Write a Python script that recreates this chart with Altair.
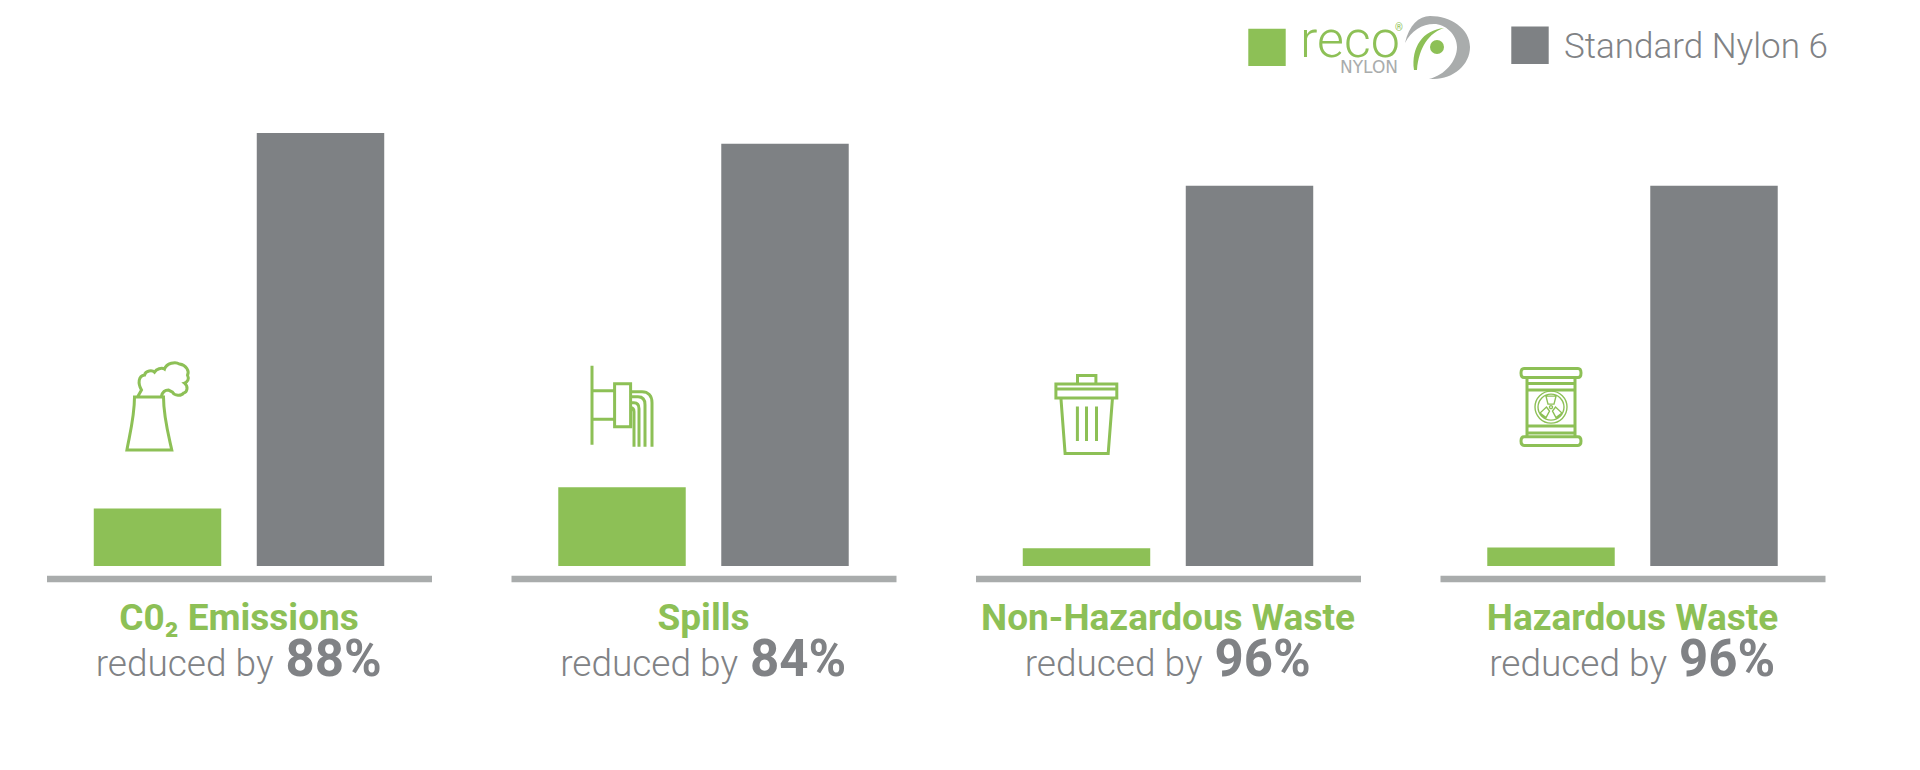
import altair as alt
import pandas as pd

categories = ["C0\u2082 Emissions", "Spills", "Non-Hazardous Waste", "Hazardous Waste"]
reductions = ["88%", "84%", "96%", "96%"]
series = ["reco", "Standard Nylon 6"]
reco_values = [13.3, 18.2, 4.1, 4.3]
standard_values = [100.0, 97.5, 87.8, 87.8]
icon_levels = [36.7, 36.8, 35.0, 36.7]

GREEN = "#8DC056"
GRAY = "#7E8184"
RULE = "#A9ACAC"
TEXT = "#808285"
FONT = "Roboto"
W, H = 385, 433


def ring(cx, cy, r):
    k = r * 0.5523
    return (f"M{cx + r},{cy} C{cx + r},{cy + k} {cx + k},{cy + r} {cx},{cy + r} "
            f"C{cx - k},{cy + r} {cx - r},{cy + k} {cx - r},{cy} "
            f"C{cx - r},{cy - k} {cx - k},{cy - r} {cx},{cy - r} "
            f"C{cx + k},{cy - r} {cx + r},{cy - k} {cx + r},{cy} Z ")


TOWER = ("M-23,-10 C-23,10 -28,28 -30.6,43 L14.3,43 C11,28 6,10 6,-10 Z "
         "M-20,-10 L-16,-17 C-20,-24 -19,-31 -13,-32 C-12,-37 -5,-37 -3,-35 C-1,-38 4,-40 7,-38 "
         "C9,-44 18,-46 22,-43 C29,-42 32,-36 30,-32 C32,-28 30,-25 27,-24 C31,-21 30,-15 26,-14 "
         "C24,-11 17,-11 15,-15 L11,-17 C8,-17 5,-15 4,-11")
PIPE = ("M-30,-41 L-30,38 M-30,-16 L-7.4,-16 M-30,12.6 L-7.4,12.6 "
        "M-7.4,-23 L8.6,-23 L8.6,20 L-7.4,20 Z "
        "M8.6,-15 L20,-15 C26,-15 30,-11 30,-4 L30,40 "
        "M8.6,-10 L16,-10 C21,-10 23,-7 23,-2 L23,40 "
        "M8.6,-4 L12,-4 C15,-4 17,-2 17,2 L17,40 "
        "M8.6,1 C11,1 12,3 12,5 L12,40")
TRASH = ("M-9,-30.5 L-9,-39 L9.4,-39 L9.4,-30.5 "
         "M-30.6,-30.5 L30.3,-30.5 L30.3,-16.5 L-30.6,-16.5 Z M-30.6,-25.5 L30.3,-25.5 "
         "M-25.6,-16.5 L-21.4,39 L21.7,39 L26,-16.5 "
         "M-9.1,-8 L-9.1,26.5 M0,-8 L0,26.5 M10,-8 L10,26.5")
BARREL = ("M-27,-38.7 L27,-38.7 C31,-38.7 31,-29.7 27,-29.7 L-27,-29.7 C-31,-29.7 -31,-38.7 -27,-38.7 Z "
          "M-27,29.7 L27,29.7 C31,29.7 31,38.3 27,38.3 L-27,38.3 C-31,38.3 -31,29.7 -27,29.7 Z "
          "M-24,-29.7 L-24,29.7 M24,-29.7 L24,29.7 "
          "M-24,-23.7 L24,-23.7 M-24,-17 L24,-17 M-24,19 L24,19 M-24,26 L24,26")
TREFOIL = (ring(0, 0, 16) + ring(0, 0, 13) + ring(0, 0, 1.5) +
           "M-3,-3 L-5,-11 L5,-11 L3,-3 Z M4.5,0 L11,6 L5,10.5 L1.5,4 Z M-4.5,0 L-11,6 L-5,10.5 L-1.5,4 Z")
icons = [TOWER, PIPE, TRASH, BARREL]

CRESCENT = ("M-32,-4 C-28,-22 -18,-31 -7,-31 C14,-31 33,-18 33,0 C33,18 16,32 -3,32 L-8,32 "
            "C8,28 20,14 20,0 C20,-13 8,-23 -3,-23 C-15,-23 -26,-16 -32,-4 Z")
SWOOSH = "M-23,23 C-26,0 -14,-17 7,-19 C-8,-14 -18,0 -20,23 Z"

x_scale = alt.Scale(domain=series, paddingInner=0.218, paddingOuter=0.29)
y_scale = alt.Scale(domain=[0, 100], nice=False)
color_scale = alt.Scale(domain=series, range=[GREEN, GRAY])


def panel(i):
    bars_df = pd.DataFrame({"series": series,
                            "value": [reco_values[i], standard_values[i]]})
    bars = alt.Chart(bars_df).mark_bar(cornerRadius=0).encode(
        x=alt.X("series:N", scale=x_scale, sort=series,
                axis=alt.Axis(title=None, labels=False, ticks=False, grid=False,
                              domainColor=RULE, domainWidth=6.5, offset=12.5)),
        y=alt.Y("value:Q", scale=y_scale, axis=None),
        color=alt.Color("series:N", scale=color_scale, legend=None),
    )
    icon_df = pd.DataFrame({"series": [series[0]], "value": [icon_levels[i]]})
    icon_enc = dict(x=alt.X("series:N", scale=x_scale, sort=series),
                    y=alt.Y("value:Q", scale=y_scale))
    layers = [bars, alt.Chart(icon_df).mark_point(
        shape=icons[i], size=4, filled=False, stroke=GREEN, strokeWidth=3, opacity=1
    ).encode(**icon_enc)]
    if i == 3:
        layers.append(alt.Chart(icon_df).mark_point(
            shape=TREFOIL, size=4, filled=False, stroke=GREEN, strokeWidth=1.4, opacity=1
        ).encode(**icon_enc))
    text_df = pd.DataFrame({"name": [categories[i]], "pct": [reductions[i]], "sub": ["reduced by"]})
    layers.append(alt.Chart(text_df).mark_text(
        font=FONT, fontWeight="bold", fontSize=37, color=GREEN, align="center", baseline="alphabetic"
    ).encode(text="name:N", x=alt.value(W / 2), y=alt.value(497)))
    layers.append(alt.Chart(text_df).mark_text(
        font=FONT, fontWeight=300, fontSize=37, color=TEXT, align="right", baseline="alphabetic"
    ).encode(text="sub:N", x=alt.value(227), y=alt.value(542.5)))
    layers.append(alt.Chart(text_df).mark_text(
        font=FONT, fontWeight="bold", fontSize=51, color=TEXT, align="left", baseline="alphabetic"
    ).encode(text="pct:N", x=alt.value(239), y=alt.value(542.5)))
    return alt.layer(*layers).properties(width=W, height=H)


def legend_row():
    one = pd.DataFrame({"series": series})
    def t(txt, x, y, size, color, weight=400, align="left", font=FONT):
        return alt.Chart(pd.DataFrame({"t": [txt]})).mark_text(
            font=font, fontSize=size, fontWeight=weight, color=color, align=align, baseline="alphabetic"
        ).encode(text="t:N", x=alt.value(x), y=alt.value(y))
    def sq(s, x, y):
        return alt.Chart(one[one.series == s]).mark_square(size=1400, opacity=1).encode(
            x=alt.value(x), y=alt.value(y),
            color=alt.Color("series:N", scale=color_scale, legend=None))
    def logo(shape, x, y, color):
        return alt.Chart(one.head(1)).mark_point(
            shape=shape, size=4, filled=True, fill=color, strokeWidth=0, opacity=1
        ).encode(x=alt.value(x), y=alt.value(y))
    ox, oy = 46.5, 8
    cx, cy = 1437 - ox, 47 - oy
    dot = alt.Chart(one.head(1)).mark_circle(size=196, color=GREEN, opacity=1).encode(
        x=alt.value(cx), y=alt.value(cy))
    return alt.layer(
        sq(series[0], 1267 - ox, 47.4 - oy),
        sq(series[1], 1530 - ox, 45.2 - oy),
        logo(CRESCENT, cx, cy, RULE),
        logo(SWOOSH, cx, cy, GREEN),
        dot,
        t("reco", 1300 - ox, 57 - oy, 52, GREEN, 300),
        t("\u00ae", 1395 - ox, 31 - oy, 10, GREEN),
        t("NYLON", 1398 - ox, 73 - oy, 17, RULE, 400, "right", "DejaVu Sans"),
        t(series[1], 1564 - ox, 58 - oy, 35, TEXT, 300),
    ).properties(width=1780, height=125)


row = alt.hconcat(panel(0), panel(1), panel(2), panel(3), spacing=79.5)
chart = alt.vconcat(legend_row(), row, spacing=0).properties(
    padding={"left": 38.5, "top": 0, "right": 0, "bottom": 0}
).configure(background="white").configure_view(stroke=None)
chart.save("out.html", embed_options={"renderer": "svg", "actions": False})
